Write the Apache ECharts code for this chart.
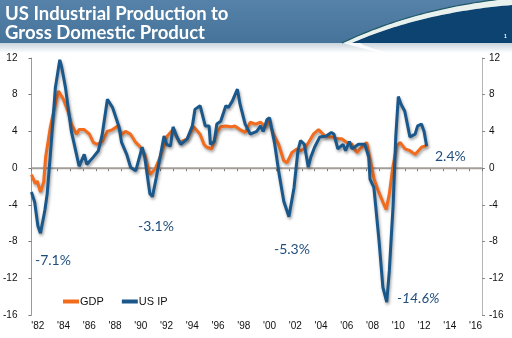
<!DOCTYPE html>
<html>
<head>
<meta charset="utf-8">
<script src="https://cdn.jsdelivr.net/npm/echarts@6/dist/echarts.min.js"></script>
<style>
  html, body { margin: 0; padding: 0; background: #ffffff; }
  #chart { width: 512px; height: 338px; }
</style>
</head>
<body>
<div id="chart"></div>
<script>
// Year-over-year % change, dates as decimal years
const ipDates = [1981.5, 1981.75, 1982.0, 1982.2, 1982.35, 1982.55, 1982.72, 1982.97, 1983.36, 1983.7, 1983.85, 1984.14, 1984.6, 1985.0, 1985.2, 1985.6, 1985.8, 1986.3, 1986.7, 1987.0, 1987.4, 1987.8, 1988.3, 1988.5, 1988.9, 1989.2, 1989.6, 1990.1, 1990.3, 1990.7, 1990.9, 1991.2, 1991.8, 1992.0, 1992.3, 1992.5, 1992.8, 1993.1, 1993.6, 1994.0, 1994.2, 1994.6, 1995.0, 1995.3, 1995.4, 1995.7, 1995.9, 1996.2, 1996.6, 1996.8, 1997.1, 1997.5, 1997.7, 1998.1, 1998.5, 1999.0, 1999.3, 1999.5, 1999.8, 2000.0, 2000.4, 2000.7, 2001.1, 2001.5, 2001.9, 2002.2, 2002.4, 2002.7, 2003.0, 2003.2, 2003.5, 2003.9, 2004.4, 2004.8, 2005.0, 2005.3, 2005.7, 2005.9, 2006.2, 2006.4, 2006.9, 2007.4, 2007.7, 2007.8, 2008.1, 2008.5, 2008.8, 2009.1, 2009.3, 2009.6, 2009.8, 2010.0, 2010.2, 2010.5, 2010.7, 2010.9, 2011.3, 2011.5, 2011.8, 2012.0, 2012.2];
const ipValues = [-2.6, -3.7, -6.3, -7.1, -6.0, -4.5, -2.8, 1.5, 8.8, 11.8, 11.0, 8.8, 4.0, 1.5, 0.2, 1.5, 0.4, 1.2, 1.9, 3.7, 7.5, 6.6, 4.5, 2.8, 1.5, 0.1, -0.3, 2.3, 1.2, -2.8, -3.1, -1.0, 3.5, 2.6, 2.4, 4.5, 3.4, 2.6, 3.2, 4.6, 6.4, 6.8, 4.6, 4.6, 2.6, 2.9, 4.8, 5.1, 6.8, 6.6, 7.3, 8.6, 7.0, 4.8, 3.7, 4.0, 4.6, 4.0, 5.3, 5.5, 2.6, -0.3, -3.6, -5.3, -2.1, 1.9, 3.0, 2.6, 0.1, 1.2, 2.3, 3.4, 3.5, 3.9, 3.7, 2.1, 2.6, 1.9, 2.9, 2.1, 2.6, 2.6, 1.2, -1.2, -2.1, -7.9, -13.0, -14.6, -11.2, -3.9, 3.4, 7.8, 7.0, 6.2, 4.8, 3.4, 3.7, 4.6, 4.8, 4.0, 2.4];

const gdpDates = [1981.5, 1981.65, 1981.8, 1981.95, 1982.2, 1982.45, 1982.6, 1982.97, 1983.36, 1983.6, 1983.98, 1984.36, 1984.6, 1985.0, 1985.2, 1985.6, 1986.0, 1986.3, 1986.6, 1987.0, 1987.4, 1987.8, 1988.2, 1988.5, 1988.8, 1989.2, 1989.6, 1989.9, 1990.3, 1990.7, 1991.1, 1991.5, 1991.9, 1992.05, 1992.5, 1993.0, 1993.6, 1994.1, 1994.6, 1994.9, 1995.1, 1995.5, 1995.9, 1996.2, 1996.6, 1997.0, 1997.3, 1997.7, 1998.1, 1998.5, 1998.9, 1999.3, 1999.7, 1999.9, 2000.3, 2000.7, 2001.1, 2001.35, 2001.73, 2002.12, 2002.4, 2002.7, 2003.02, 2003.4, 2003.8, 2004.3, 2004.83, 2005.22, 2005.6, 2006.0, 2006.39, 2006.78, 2007.16, 2007.55, 2007.8, 2008.12, 2008.45, 2008.8, 2009.05, 2009.3, 2009.57, 2009.88, 2010.14, 2010.52, 2010.91, 2011.3, 2011.56, 2011.82, 2012.08, 2012.2];
const gdpValues = [-0.7, -1.2, -1.7, -1.4, -2.6, -1.5, 1.2, 4.5, 7.0, 8.4, 7.5, 6.1, 4.8, 3.7, 4.2, 4.2, 3.7, 2.8, 2.6, 2.9, 4.0, 4.2, 4.6, 3.7, 4.0, 3.7, 2.8, 2.4, 1.5, -0.7, -0.1, 1.2, 2.9, 3.5, 4.2, 2.8, 3.2, 4.5, 3.7, 2.6, 2.3, 2.1, 3.9, 4.5, 4.6, 4.5, 4.6, 4.2, 3.9, 5.0, 4.8, 5.0, 4.5, 5.3, 3.7, 2.6, 0.8, 0.6, 1.7, 2.1, 1.9, 2.1, 2.8, 3.7, 4.2, 3.5, 3.4, 3.2, 3.2, 2.8, 2.6, 1.7, 2.3, 2.8, 1.0, -1.2, -2.5, -3.7, -4.5, -2.8, 0.1, 2.4, 2.8, 2.1, 1.9, 1.5, 1.9, 2.3, 2.4, 2.6];

// Axis categories and tick labels
const axisYears = [];
for (let y = 1982; y <= 2016; y++) axisYears.push(y);
const yearLabels = axisYears.map(y => "'" + String(y).slice(2));
const xMin = 1981.5, xMax = 2016.5;
const yMin = -16, yMax = 12, yStep = 4;

// Call-outs for the US IP troughs and latest reading
const callouts = [
  { text: '-7.1%', x: 35, y: 261, italic: false },
  { text: '-3.1%', x: 138, y: 227, italic: false },
  { text: '-5.3%', x: 274, y: 250, italic: false },
  { text: '-14.6%', x: 397, y: 299, italic: true },
  { text: '2.4%', x: 435, y: 157, italic: false }
];

const zip = (xs, ys) => xs.map((x, i) => [x, ys[i]]);

// sample a cubic bezier into polygon points (header decoration)
function bez(p0, p1, p2, p3, n) {
  const pts = [];
  for (let i = 0; i <= n; i++) {
    const t = i / n, u = 1 - t;
    pts.push([
      u*u*u*p0[0] + 3*u*u*t*p1[0] + 3*u*t*t*p2[0] + t*t*t*p3[0],
      u*u*u*p0[1] + 3*u*u*t*p1[1] + 3*u*t*t*p2[1] + t*t*t*p3[1]
    ]);
  }
  return pts;
}
const upperEdge = bez([342, 43], [390, 20], [448, 4], [512, -2], 40);
const lowerEdge = bez([352, 43], [395, 24], [450, 10], [512, 5], 40);
const navyPts = lowerEdge.concat([[512, 43]]);
const bandPts = upperEdge.concat(lowerEdge.slice().reverse());
const tailPts = bez([343, 43], [360, 48], [380, 53], [405, 57], 20)
  .concat(bez([405, 57], [385, 52], [368, 48], [360, 43], 20));

const chart = echarts.init(document.getElementById('chart'), null, { renderer: 'canvas' });

const lineShadow = { shadowColor: 'rgba(40,40,40,0.45)', shadowBlur: 3, shadowOffsetX: 1, shadowOffsetY: 2 };
const labelFont = 'Liberation Sans, Arial, sans-serif';

chart.setOption({
  animation: false,
  backgroundColor: '#ffffff',
  grid: { left: 31, right: 30, top: 58, bottom: 23, containLabel: false },
  legend: {
    data: ['GDP', 'US IP'],
    left: 58, top: 291,
    icon: 'rect', itemWidth: 16, itemHeight: 4, itemGap: 18,
    textStyle: { fontSize: 11, color: '#111', fontFamily: labelFont, padding: [0, 0, 0, -4] }
  },
  xAxis: [
    { type: 'value', min: xMin, max: xMax, show: false, splitLine: { show: false } },
    {
      type: 'category', data: yearLabels, position: 'bottom', boundaryGap: true,
      axisLine: { show: true, lineStyle: { color: '#9a9a9a', width: 1 } },
      axisTick: { show: true, interval: 0, length: 3, lineStyle: { color: '#777' } },
      axisLabel: { interval: 1, margin: 6, fontSize: 10, color: '#111', fontFamily: labelFont },
      splitLine: { show: false }
    }
  ],
  yAxis: [
    {
      type: 'value', position: 'left', min: yMin, max: yMax, interval: yStep,
      axisLine: { show: true, lineStyle: { color: '#9a9a9a', width: 1 } },
      axisTick: { show: true, length: 3, lineStyle: { color: '#777' } },
      axisLabel: { margin: 14, fontSize: 10, color: '#111', fontFamily: labelFont },
      splitLine: { show: false }
    },
    {
      type: 'value', position: 'right', min: yMin, max: yMax, interval: yStep,
      axisLine: { show: true, lineStyle: { color: '#b5b5b5', width: 1 } },
      axisTick: { show: true, length: 3, lineStyle: { color: '#888' } },
      axisLabel: { margin: 7, fontSize: 10, color: '#111', fontFamily: labelFont },
      splitLine: { show: false }
    }
  ],
  series: [
    {
      name: 'zero', type: 'line', xAxisIndex: 0, yAxisIndex: 0, silent: true,
      data: [[xMin, 0], [xMax, 0]], symbol: 'none', z: 1,
      lineStyle: { color: '#a39e99', width: 2 }
    },
    {
      name: 'GDP', type: 'line', xAxisIndex: 0, yAxisIndex: 0,
      data: zip(gdpDates, gdpValues), symbol: 'none', z: 2,
      itemStyle: { color: '#f36b1c' },
      lineStyle: Object.assign({ color: '#f36b1c', width: 3 }, lineShadow)
    },
    {
      name: 'US IP', type: 'line', xAxisIndex: 0, yAxisIndex: 0,
      data: zip(ipDates, ipValues), symbol: 'none', z: 3,
      itemStyle: { color: '#1a578a' },
      lineStyle: Object.assign({ color: '#1a578a', width: 3 }, lineShadow)
    }
  ],
  graphic: [
    // header band
    { type: 'rect', z: 0, shape: { x: 0, y: 0, width: 512, height: 43 },
      style: { fill: new echarts.graphic.LinearGradient(0, 0, 0, 1, [
        { offset: 0, color: '#5682aa' }, { offset: 1, color: '#467399' }]) } },
    // soft shadow under the header
    { type: 'rect', z: 0, shape: { x: 0, y: 43, width: 512, height: 10 },
      style: { fill: new echarts.graphic.LinearGradient(0, 0, 0, 1, [
        { offset: 0, color: '#c9d3dc' }, { offset: 1, color: '#ffffff' }]) } },
    // navy swoosh
    { type: 'polygon', z: 1, shape: { points: navyPts }, style: { fill: '#0d4370' } },
    // light band of the swoosh
    { type: 'polygon', z: 1, shape: { points: bandPts }, style: { fill: '#e9f1ef' } },
    // dark edge line of the swoosh
    { type: 'polyline', z: 1, shape: { points: upperEdge },
      style: { fill: null, stroke: '#1e5866', lineWidth: 1.2 } },
    // faint swoosh tail below header
    { type: 'polygon', z: 1, shape: { points: tailPts }, style: { fill: 'rgba(255,255,255,0.85)' } },
    // title
    { type: 'text', z: 2, left: 5, top: 5,
      style: { text: 'US Industrial Production to\nGross Domestic Product', fill: '#ffffff',
        font: 'bold 18.5px Lato, "Open Sans", sans-serif', lineHeight: 19 } },
    { type: 'text', z: 2, left: 504, top: 34,
      style: { text: '1', fill: '#ffffff', font: 'bold 5px sans-serif' } }
  ].concat(callouts.map(c => ({
    type: 'text', z: 5, left: c.x, top: c.y - 8,
    style: { text: c.text, fill: '#1f4e7d',
      font: (c.italic ? 'italic ' : '') + '14px Lato, "Open Sans", sans-serif' }
  })))
});
</script>
</body>
</html>
